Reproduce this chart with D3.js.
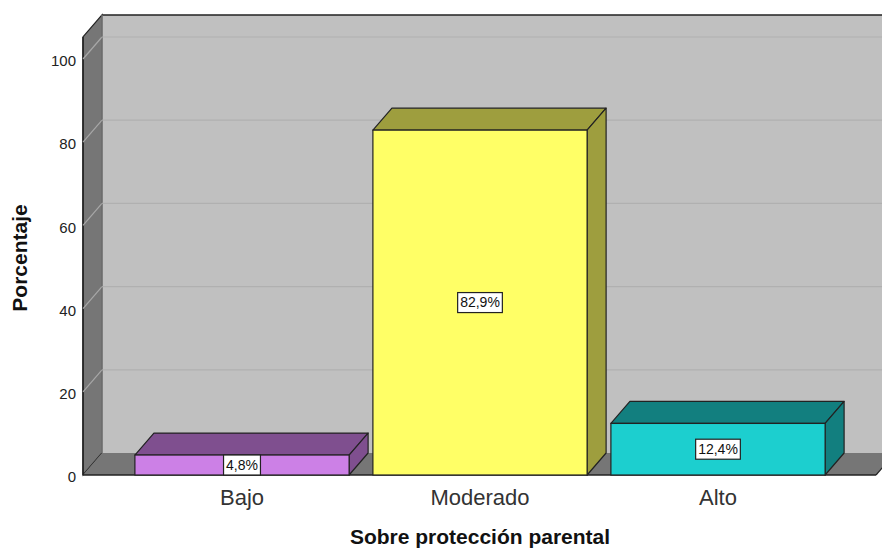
<!DOCTYPE html>
<html><head><meta charset="utf-8">
<script src="https://cdn.jsdelivr.net/npm/d3@7"></script>
<style>body{margin:0;background:#fff;}svg{display:block;font-family:Arial,"Liberation Sans",sans-serif;}</style>
</head><body>
<svg id="c" width="882" height="551"></svg>
<script>
const categories = ["Bajo", "Moderado", "Alto"];
const values = [4.8, 82.9, 12.4];
const valueLabels = ["4,8%", "82,9%", "12,4%"];
const yTicks = [0, 20, 40, 60, 80, 100];
const frontColors = ["#cc80e6", "#ffff66", "#1ccfcf"];
const darkColors = ["#7f4f8f", "#9e9e3e", "#127f7f"];

const svg = d3.select("#c");
const dx = 19, dy = -22;
const y = d3.scaleLinear().domain([0, 100]).range([475, 59]);
const x = d3.scaleBand().domain(categories).range([123, 837]).paddingInner(0.1).paddingOuter(0.05);
const leftX = 83, rightX = 876, topVal = 105.3;

// back wall
svg.append("rect").attr("x", leftX + dx).attr("y", y(topVal) + dy)
  .attr("width", 882 - leftX - dx + 10).attr("height", y(0) - y(topVal))
  .attr("fill", "#c0c0c0");
svg.append("line").attr("x1", leftX + dx).attr("x2", 890).attr("y1", y(topVal) + dy).attr("y2", y(topVal) + dy)
  .attr("stroke", "#222").attr("stroke-width", 1.5);
// left wall
svg.append("polygon").attr("points", [
  [leftX, y(topVal)], [leftX + dx, y(topVal) + dy], [leftX + dx, y(0) + dy], [leftX, y(0)]
].map(p => p.join(",")).join(" ")).attr("fill", "#767676").attr("stroke", "#222").attr("stroke-width", 1.2);
// floor
svg.append("polygon").attr("points", [
  [leftX, y(0)], [rightX, y(0)], [rightX + dx, y(0) + dy], [leftX + dx, y(0) + dy]
].map(p => p.join(",")).join(" ")).attr("fill", "#767676");
svg.append("line").attr("x1", leftX).attr("x2", rightX).attr("y1", y(0)).attr("y2", y(0)).attr("stroke", "#222").attr("stroke-width", 1.5);
svg.append("line").attr("x1", rightX).attr("x2", rightX + dx).attr("y1", y(0)).attr("y2", y(0) + dy).attr("stroke", "#222").attr("stroke-width", 1.2);
svg.append("line").attr("x1", leftX).attr("x2", leftX).attr("y1", y(topVal)).attr("y2", y(0)).attr("stroke", "#222").attr("stroke-width", 1.5);

// gridlines
const grid = svg.append("g");
yTicks.filter(v => v > 0).forEach(v => {
  grid.append("line").attr("x1", leftX + dx).attr("x2", 890).attr("y1", y(v) + dy).attr("y2", y(v) + dy)
    .attr("stroke", "#b0b0b0").attr("stroke-width", 1.2);
  grid.append("line").attr("x1", leftX).attr("x2", leftX + dx).attr("y1", y(v)).attr("y2", y(v) + dy)
    .attr("stroke", "#a8a8a8").attr("stroke-width", 1.2);
});
grid.append("line").attr("x1", leftX + dx).attr("x2", leftX + dx).attr("y1", y(topVal) + dy).attr("y2", y(0) + dy)
  .attr("stroke", "#999").attr("stroke-width", 1);

// y axis labels
svg.append("g").selectAll("text").data(yTicks).join("text")
  .attr("x", 76).attr("y", d => y(d) + 2).attr("dy", "0.35em").attr("text-anchor", "end")
  .attr("font-size", 15).attr("fill", "#222").text(d => d);

// bars
const bars = svg.append("g").selectAll("g").data(categories).join("g");
bars.each(function(c, i) {
  const g = d3.select(this);
  const x0 = x(c), x1 = x(c) + x.bandwidth(), yt = y(values[i]), yb = y(0);
  const pts = a => a.map(p => p.join(",")).join(" ");
  g.append("polygon").attr("points", pts([[x0, yt], [x0 + dx, yt + dy], [x1 + dx, yt + dy], [x1, yt]]))
    .attr("fill", darkColors[i]).attr("stroke", "#222").attr("stroke-width", 1.2).attr("stroke-linejoin", "round");
  g.append("polygon").attr("points", pts([[x1, yt], [x1 + dx, yt + dy], [x1 + dx, yb + dy], [x1, yb]]))
    .attr("fill", darkColors[i]).attr("stroke", "#222").attr("stroke-width", 1.2).attr("stroke-linejoin", "round");
  g.append("rect").attr("x", x0).attr("y", yt).attr("width", x.bandwidth()).attr("height", yb - yt)
    .attr("fill", frontColors[i]).attr("stroke", "#222").attr("stroke-width", 1.2);
  const cx = x0 + x.bandwidth() / 2, cy = (yt + yb) / 2;
  const t = g.append("text").attr("x", cx).attr("y", cy).attr("dy", "0.35em").attr("text-anchor", "middle")
    .attr("font-size", 14).attr("fill", "#111").text(valueLabels[i]);
  const bb = t.node().getBBox();
  g.insert("rect", "text").attr("x", bb.x - 2.5).attr("y", cy - 10).attr("width", bb.width + 5).attr("height", 20)
    .attr("fill", "#fff").attr("stroke", "#222").attr("stroke-width", 1.2);
});

// category labels
svg.append("g").selectAll("text").data(categories).join("text")
  .attr("x", d => x(d) + x.bandwidth() / 2).attr("y", 497).attr("dy", "0.35em").attr("text-anchor", "middle")
  .attr("font-size", 22).attr("fill", "#333").text(d => d);

// axis titles
svg.append("text").attr("x", 480).attr("y", 537).attr("dy", "0.35em").attr("text-anchor", "middle")
  .attr("font-size", 21).attr("font-weight", "bold").attr("fill", "#111").text("Sobre protección parental");
svg.append("text").attr("transform", "translate(20,258) rotate(-90)").attr("dy", "0.35em").attr("text-anchor", "middle")
  .attr("font-size", 21).attr("font-weight", "bold").attr("fill", "#111").text("Porcentaje");
</script>
</body></html>
